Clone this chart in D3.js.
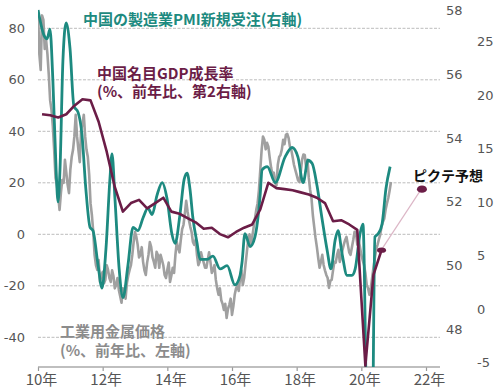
<!DOCTYPE html>
<html><head><meta charset="utf-8">
<script src="https://cdn.jsdelivr.net/npm/d3@7"></script>
<style>body{margin:0;background:#fff}</style>
</head><body>
<svg id="c" width="500" height="392"></svg>
<script>
// ---- data ----
const yearTicks = [2010, 2012, 2014, 2016, 2018, 2020, 2022];
const yearLabels = ["10年", "12年", "14年", "16年", "18年", "20年", "22年"];
const leftTicks = [-40, -20, 0, 20, 40, 60, 80];
const pmiTicks = [48, 50, 52, 54, 56, 58];
const gdpTicks = [-5, 0, 5, 10, 15, 20, 25];

// Industrial metal prices, % y/y (left axis), twice a month from Jan 2010
const metalStart = 2010;
const metalValues = [
  87.1,70,63.8,85,83.3,72,75.5,70,62.0,52,48.3,42,32.8,22,19.2,15,9.5,16,21.1,20,28.9,24,19.2,16,
  25.0,30,32.8,38,46.4,38,32.8,28,40.5,43,46.4,38,32.8,30,23.1,12,7.5,1,-8.0,-12,-13.8,-10,-18.5,-16,
  -14.6,-19,-17.7,-12,-13.8,-17,-18.5,-14,-16.2,-21,-19.7,-17,-21.6,-24,-26.6,-21,-22.4,-25,-18.9,-16,-13.8,-12,-8.0,-3,
  0.9,-1,-4.1,-9,-8.0,-5,-10.7,-14,-15.8,-11,-8.0,-3,-4.9,-9,-10.7,-13,-6.8,-8,-13.0,-8,-9.9,-12,-15.8,-17,
  -13.8,-11,-18.5,-16,-13.0,-15,-8.0,-3,-5.3,-7,-2.2,2,3.7,8,13.0,9,5.6,3,0.9,-3,-4.1,-2,-8.0,-12,
  -10.7,-7,-9.2,-11,-13.0,-13,-9.9,-7,-10.7,-15,-13.8,-12,-17.7,-21,-23.5,-21,-25.5,-27,-29.4,-27,-32.5,-29,-27.4,-25,
  -31.3,-28,-23.5,-21,-19.7,-22,-16.9,-14,-19.7,-17,-11.9,-7,-2.2,0,-4.1,-1,2.5,6,9.5,12,17.2,25,32.8,38,
  36.7,33,35.5,34,29.7,26,23.1,24,20.0,19,27.0,30,30.8,33,36.7,35,38.6,39,37.4,34,32.8,30,27.0,25,
  23.1,21,20.3,24,28.9,31,30.8,26,28.9,22,17.2,14,7.5,3,-1.4,-5,-9.2,-13,-10.7,-8,-11.9,-14,-15.8,-17,
  -20.8,-18,-17.7,-14,-10.7,-11,-8.0,-6,-10.7,-9,-6.1,-4,-2.2,-1,-4.1,-7,-8.0,-5,-2.2,1,0.9,-4,-2.2,-5,
  -8.0,-10,-11.9,-15,-19.7,-21,-23.5,-21,-16.9,-13,-9.2,-6,-4.1,-2,-0.2,3,4.8,6,9.5,12,14.1,17,20.3];

// China manufacturing PMI new orders (right axis)
const pmiDates = [2010.00,2010.19,2010.28,2010.37,2010.46,2010.56,2010.62,2010.68,2010.77,2010.87,
  2010.99,2011.11,2011.24,2011.36,2011.48,2011.61,2011.70,2011.86,2011.98,2012.10,
  2012.23,2012.29,2012.38,2012.51,2012.63,2012.78,2012.94,2013.09,2013.25,2013.40,
  2013.53,2013.68,2013.84,2013.99,2014.14,2014.24,2014.39,2014.52,2014.61,2014.70,
  2014.79,2014.92,2015.01,2015.23,2015.41,2015.63,2015.85,2016.09,2016.25,2016.31,
  2016.40,2016.56,2016.71,2016.87,2016.93,2017.09,2017.34,2017.64,2017.86,2018.04,
  2018.20,2018.35,2018.48,2018.63,2018.78,2018.94,2019.06,2019.19,2019.28,2019.40,
  2019.56,2019.71,2019.81,2019.96,2020.05,2020.20,2020.33,2020.42,2020.52,2020.64,
  2020.76,2020.89];
const pmiValues = [58.0,57.2,57.1,57.4,55.8,53.0,52.0,53.0,56.4,57.6,
  56.8,55.0,54.8,54.1,52.4,51.2,51.1,50.0,49.3,50.5,
  52.8,53.5,52.1,49.9,49.0,50.0,51.2,51.1,51.5,51.8,
  51.6,52.2,52.6,52.1,51.0,50.7,51.6,52.7,52.9,52.4,
  51.5,50.7,50.2,50.2,50.3,49.9,50.0,49.4,49.7,50.1,
  51.0,50.6,50.9,52.2,53.0,53.1,52.6,53.4,53.7,53.4,
  52.6,53.3,53.2,52.5,51.5,50.5,49.9,50.8,51.1,50.4,
  49.7,49.7,49.9,51.0,51.3,44.0,44.0,50.9,51.0,51.3,
  52.4,53.1];

// China nominal GDP growth, % y/y (second right axis), quarterly 2010Q1-2020Q3
const gdpStart = 2010;
const gdpValues = [18.2,18.1,17.9,18.2, 19.0,19.6,19.5,17.5, 14.7,11.4,9.1,9.9,
  10.2,9.4,9.9,10.4, 9.1,8.9,8.5,8.1, 7.5,7.6,7.0,6.7,
  7.2,7.6,7.9,9.3, 11.8,11.3,11.2,11.1, 10.9,10.7,10.4,9.9,
  8.2,8.3,7.9,7.4, -5.3,3.2,5.5];
const forecastQuarter = {year: 2021, q: 4};
const forecastValue = 11.2;

// ---- chart ----
const svg = d3.select("#c");
const x = d3.scaleLinear().domain([2010, 2022]).range([38, 426]);
const yL = d3.scaleLinear().domain([-40, 80]).range([337.3, 28.3]);
const yP = d3.scaleLinear().domain([48, 58]).range([329.6, 10.1]);
const yG = d3.scaleLinear().domain([-5, 25]).range([362.5, 41.5]);
const X0 = 38, X1 = 440, Y0 = 5, YB = 367;

const teal = "#1d8a80", maroon = "#6b1d47", grey = "#a0a0a0";
const numFont = "DejaVu Sans", jp = "'Noto Sans CJK JP', sans-serif";

// grid
svg.append("g").selectAll("line").data(leftTicks).join("line")
  .attr("x1", X0).attr("x2", X1)
  .attr("y1", d => yL(d)).attr("y2", d => yL(d))
  .attr("stroke", "#bcbcbc").attr("stroke-width", 1).attr("stroke-dasharray", "3,1.5");

// left labels
svg.append("g").selectAll("text").data(leftTicks).join("text")
  .attr("x", 25).attr("y", d => yL(d)).attr("dy", "0.36em")
  .attr("text-anchor", "end").attr("font-family", numFont).attr("font-size", 13)
  .attr("fill", "#555").text(d => d);
// right PMI labels
svg.append("g").selectAll("text").data(pmiTicks).join("text")
  .attr("x", 446).attr("y", d => yP(d)).attr("dy", "0.36em")
  .attr("font-family", numFont).attr("font-size", 13).attr("fill", "#555").text(d => d);
// second right GDP labels
svg.append("g").selectAll("text").data(gdpTicks).join("text")
  .attr("x", 477).attr("y", d => yG(d)).attr("dy", "0.36em")
  .attr("font-family", numFont).attr("font-size", 13).attr("fill", "#555").text(d => d);

// x axis
const xAxis = d3.axisBottom(x).tickValues(yearTicks).tickSize(4)
  .tickFormat((d, i) => yearLabels[i]);
const gx = svg.append("g").attr("transform", `translate(0,${YB})`).call(xAxis);
gx.select(".domain").remove();
gx.selectAll(".tick line").attr("stroke", "#999").attr("stroke-width", 1.2);
gx.selectAll(".tick text").attr("font-family", jp).attr("font-size", 15)
  .attr("fill", "#555").attr("dx", 3).attr("y", 7);
svg.append("line").attr("x1", X0).attr("x2", X1).attr("y1", YB).attr("y2", YB)
  .attr("stroke", "#aaa").attr("stroke-width", 1.5);

// clip
svg.append("clipPath").attr("id", "clip").append("rect")
  .attr("x", X0).attr("y", Y0).attr("width", X1 - X0).attr("height", YB - Y0);
const plot = svg.append("g").attr("clip-path", "url(#clip)");

// metals
plot.append("path").datum(metalValues)
  .attr("d", d3.line().x((d, i) => x(metalStart + i / 24)).y(d => yL(d)))
  .attr("fill", "none").attr("stroke", grey).attr("stroke-width", 2.6)
  .attr("stroke-linejoin", "round");

// PMI
plot.append("path").datum(pmiValues)
  .attr("d", d3.line().curve(d3.curveMonotoneX)
    .x((d, i) => x(pmiDates[i])).y(d => yP(d)))
  .attr("fill", "none").attr("stroke", teal).attr("stroke-width", 2.8)
  .attr("stroke-linejoin", "round");

// GDP
const gdpX = i => x(gdpStart + (i + 0.5) / 4);
plot.append("path").datum(gdpValues)
  .attr("d", d3.line().x((d, i) => gdpX(i)).y(d => yG(d)))
  .attr("fill", "none").attr("stroke", maroon).attr("stroke-width", 2.6)
  .attr("stroke-linejoin", "round");

const lastI = gdpValues.length - 1;
const fx = x(forecastQuarter.year + (forecastQuarter.q - 0.5) / 4);
svg.append("line")
  .attr("x1", gdpX(lastI) + 1).attr("y1", yG(gdpValues[lastI]) - 2)
  .attr("x2", fx - 2).attr("y2", yG(forecastValue) + 2)
  .attr("stroke", "#dcb6c6").attr("stroke-width", 1.2);
svg.append("ellipse").attr("cx", gdpX(lastI)).attr("cy", yG(gdpValues[lastI]))
  .attr("rx", 4.5).attr("ry", 2.6).attr("fill", maroon);
svg.append("ellipse").attr("cx", fx).attr("cy", yG(forecastValue))
  .attr("rx", 5).attr("ry", 3.6).attr("fill", maroon);

// labels (two-line labels as one text with tspans)
function label(lines, xx, yy, col, size, gap) {
  const t = svg.append("text").attr("font-family", jp).attr("font-weight", 700)
    .attr("font-size", size).attr("fill", col);
  lines.forEach((s, i) => {
    t.append("tspan").attr("x", xx).attr("y", yy + i * (gap || 18)).text(s);
  });
}
label(["中国の製造業PMI新規受注(右軸)"], 83, 25, teal, 15);
label(["中国名目GDP成長率", "(%、前年比、第2右軸)"], 97, 79, maroon, 15, 18);
label(["工業用金属価格", "(%、前年比、左軸)"], 60, 337, "#8c8c8c", 15, 19);
label(["ピクテ予想"], 413, 181, "#111", 14);
</script>
</body></html>
